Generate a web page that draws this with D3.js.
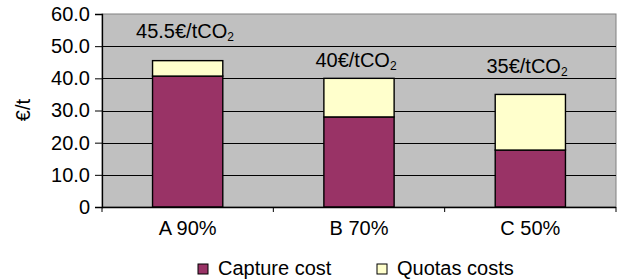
<!DOCTYPE html>
<html><head><meta charset="utf-8">
<script src="https://cdn.jsdelivr.net/npm/d3@7"></script>
<style>body{margin:0;background:#fff}svg{font-family:"Liberation Sans",Arial,sans-serif}</style>
</head><body><svg id="c" width="619" height="280"></svg>
<script>
const categories = ["A 90%", "B 70%", "C 50%"];
const captureCost = [40.7, 28.0, 17.7];
const quotasCost = [4.8, 12.0, 17.3];
const totalLabels = ["45.5€/tCO", "40€/tCO", "35€/tCO"];
const yTicks = [0, 10, 20, 30, 40, 50, 60];
const seriesNames = ["Capture cost", "Quotas costs"];
const colors = ["#993366", "#FFFFCC"];

const FS = 20;
const svg = d3.select("#c");
const L = 102, R = 616, T = 14, B = 207;
const x = d3.scaleBand().domain(categories).range([L, R]).paddingInner(0.59).paddingOuter(0.295);
const y = d3.scaleLinear().domain([0, 60]).range([B, T]);

svg.append("rect").attr("x", L).attr("y", T).attr("width", R - L).attr("height", B - T)
  .attr("fill", "#C0C0C0").attr("stroke", "#808080").attr("stroke-width", 1);

svg.append("g").selectAll("line").data(yTicks.filter(d => d > 0 && d < 60)).join("line")
  .attr("x1", L).attr("x2", R).attr("y1", d => Math.round(y(d)) + 0.5).attr("y2", d => Math.round(y(d)) + 0.5)
  .attr("stroke", "#000").attr("stroke-width", 1);

const stackData = categories.map((c, i) => ({cat: c, cap: captureCost[i], quo: quotasCost[i]}));
const stack = d3.stack().keys(["cap", "quo"])(stackData);
svg.append("g").selectAll("g").data(stack).join("g")
  .attr("fill", (d, i) => colors[i])
  .selectAll("rect").data(d => d).join("rect")
  .attr("x", d => x(d.data.cat)).attr("width", x.bandwidth())
  .attr("y", d => y(d[1])).attr("height", d => y(d[0]) - y(d[1]))
  .attr("stroke", "#000").attr("stroke-width", 1.4);

// y axis
const yAxis = svg.append("g").attr("transform", `translate(${L},0)`)
  .call(d3.axisLeft(y).tickValues(yTicks).tickSize(7).tickPadding(5)
    .tickFormat(d => d === 0 ? "0" : d3.format(".1f")(d)));
yAxis.attr("font-size", FS).attr("font-family", "Liberation Sans, Arial, sans-serif");
yAxis.select(".domain").attr("stroke", "#000").attr("stroke-width", 1.3);
yAxis.selectAll("text").attr("fill", "#000");

// x axis
const xb = d3.scaleLinear().domain([0, 3]).range([L, R]);
svg.append("line").attr("x1", L).attr("x2", R).attr("y1", B + 0.5).attr("y2", B + 0.5).attr("stroke", "#000").attr("stroke-width", 1.5);
svg.append("g").selectAll("line").data([0, 1, 2, 3]).join("line")
  .attr("x1", d => xb(d)).attr("x2", d => xb(d)).attr("y1", B).attr("y2", B + 5).attr("stroke", "#000").attr("stroke-width", 1);
svg.append("g").selectAll("text").data(categories).join("text")
  .attr("x", d => x(d) + x.bandwidth() / 2).attr("y", 235).attr("text-anchor", "middle")
  .attr("font-size", FS).text(d => d);

// total labels
const labelY = [38, 67, 73];
const labelX = [185, 356, 527];
categories.forEach((c, i) => {
  const t = svg.append("text").attr("x", labelX[i]).attr("y", labelY[i]).attr("text-anchor", "middle").attr("font-size", FS);
  t.append("tspan").text(totalLabels[i]);
  t.append("tspan").attr("font-size", 12).attr("dy", 3).text("2");
});

// y title
svg.append("text").attr("transform", "translate(30,110) rotate(-90)").attr("text-anchor", "middle")
  .attr("font-size", FS).text("€/t");

// legend
const lx = [198, 377];
seriesNames.forEach((n, i) => {
  svg.append("rect").attr("x", lx[i]).attr("y", 264).attr("width", 10).attr("height", 10)
    .attr("fill", colors[i]).attr("stroke", "#000").attr("stroke-width", 1);
  svg.append("text").attr("x", lx[i] + 20).attr("y", 275).attr("font-size", FS).text(n);
});
</script></body></html>
